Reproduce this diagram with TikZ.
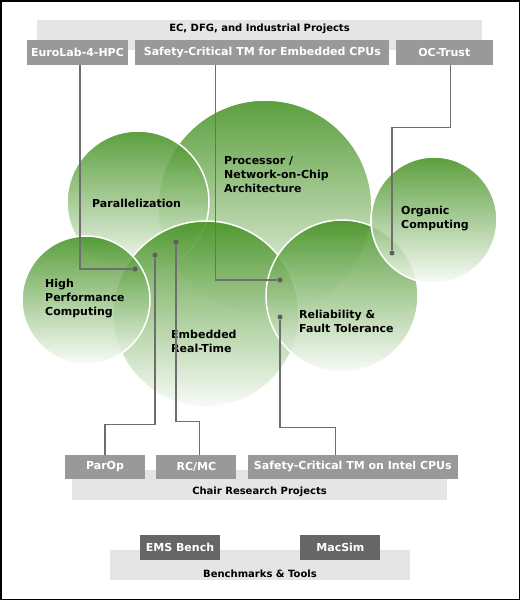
\documentclass[tikz,border=0pt]{standalone}
\usepackage{fontspec}
\setmainfont{DejaVu Sans}
\usetikzlibrary{positioning}
\definecolor{leaf}{RGB}{63,143,28}
\definecolor{boxgray}{RGB}{153,153,153}
\definecolor{darkbox}{RGB}{102,102,102}
\definecolor{bandgray}{RGB}{229,229,229}
\definecolor{wiregray}{RGB}{110,110,110}

\begin{document}
\begin{tikzpicture}[x=1pt,y=-1pt,
  every node/.style={font=\fontsize{11}{14}\selectfont\bfseries},
  bubble/.style={circle,draw=white,line width=1.5pt,top color=leaf,
    bottom color=leaf!4,fill opacity=0.85,inner sep=0},
  topic/.style={align=left,anchor=west,inner sep=0},
  band/.style={fill=bandgray,inner sep=0},
  bandtitle/.style={inner sep=0,font=\fontsize{10}{12}\selectfont\bfseries},
  project/.style={fill=boxgray,text=white,inner sep=0,minimum height=25pt},
  tool/.style={fill=darkbox,text=white,inner sep=0,minimum height=25pt,
    minimum width=80pt},
  wire/.style={draw=wiregray,line width=1.3pt},
  joint/.style={circle,fill=wiregray!85!black,inner sep=0,minimum size=5pt}
]
  \useasboundingbox (0,0) rectangle (520,600);
  \draw[line width=1.5pt] (0.75,0.75) rectangle (519.25,599.25);

  % bands
  \node[band,minimum width=445pt,minimum height=30pt] (ecband) at (259.5,35) {};
  \node[bandtitle,below=4pt of ecband.north] (ectitle)
    {EC, DFG, and Industrial Projects};
  \node[band,minimum width=375pt,minimum height=30pt] (chairband) at (259.5,485) {};
  \node[bandtitle,above=3pt of chairband.south] (chairtitle)
    {Chair Research Projects};
  \node[band,minimum width=300pt,minimum height=30pt] (benchband) at (260,565) {};
  \node[bandtitle,above=2pt of benchband.south] (benchtitle)
    {Benchmarks \& Tools};

  % research topics
  \node[bubble,minimum size=214pt] (proc) at (265,207) {};
  \node[bubble,minimum size=142pt] (par) at (138,202) {};
  \node[bubble,minimum size=186pt] (emb) at (206,314) {};
  \node[bubble,minimum size=128pt] (hpc) at (86,300) {};
  \node[bubble,minimum size=152pt] (rel) at (342,296) {};
  \node[bubble,minimum size=126pt] (org) at (434,220) {};

  \node[topic] (partext) at (92,203) {Parallelization};
  \node[topic] (proctext) at (224,175)
    {Processor /\\Network-on-Chip\\Architecture};
  \node[topic] (orgtext) at (401,219) {Organic\\Computing};
  \node[topic] (hpctext) at (45,299) {High\\Performance\\Computing};
  \node[topic] (embtext) at (171,341) {Embedded\\Real-Time};
  \node[topic] (reltext) at (299,321) {Reliability \&\\Fault Tolerance};

  % projects
  \node[project,minimum width=101pt] (eurolab) at (77.5,52.5) {EuroLab-4-HPC};
  \node[project,minimum width=254pt,right=7pt of eurolab] (safeemb)
    {Safety-Critical TM for Embedded CPUs};
  \node[project,minimum width=97pt,right=6pt of safeemb] (octrust) {OC-Trust};

  \node[project,minimum width=80pt,minimum height=24pt] (parop) at (105,467) {ParOp};
  \node[project,minimum width=80pt,minimum height=24pt,right=11pt of parop] (rcmc) {RC/MC};
  \node[project,minimum width=210pt,minimum height=24pt,right=11pt of rcmc] (intel)
    {Safety-Critical TM on Intel CPUs};

  \node[tool] (emsbench) at (180,547.5) {EMS Bench};
  \node[tool,right=80pt of emsbench] (macsim) {MacSim};

  % joints
  \node[joint] (jeuro) at (135,269) {};
  \node[joint] (jsafe) at (280,280) {};
  \node[joint] (joc) at (392,253) {};
  \node[joint] (jparop) at (155,255) {};
  \node[joint] (jrcmc) at (176,242) {};
  \node[joint] (jintel) at (280,317) {};

  % wires
  \draw[wire] ([xshift=2.5pt]eurolab.south) |- (jeuro);
  \draw[wire] ([xshift=-47pt]safeemb.south) |- (jsafe);
  \draw[wire] ([xshift=6.5pt]octrust.south) -- ++(0,62) -| (joc);
  \draw[wire] (parop.north) -- ++(0,-30) -| (jparop);
  \draw[wire] ([xshift=3pt]rcmc.north) -- ++(0,-33) -| (jrcmc);
  \draw[wire] ([xshift=-17pt]intel.north) -- ++(0,-27) -| (jintel);
\end{tikzpicture}
\end{document}
